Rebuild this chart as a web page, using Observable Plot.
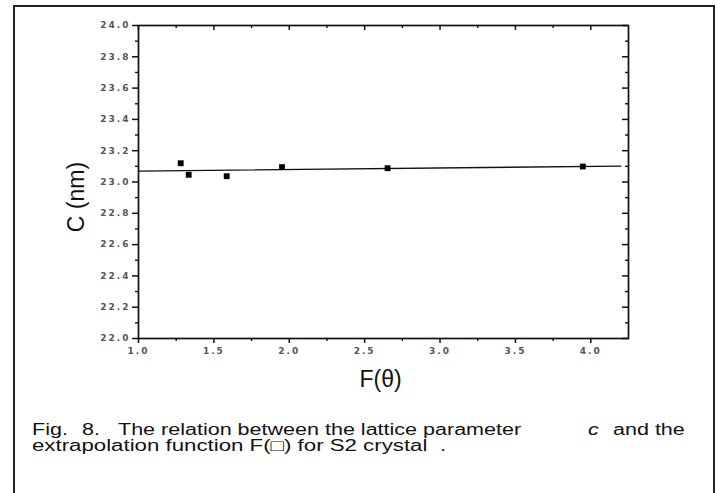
<!DOCTYPE html>
<html>
<head>
<meta charset="utf-8">
<script src="https://cdn.jsdelivr.net/npm/d3@7"></script>
<script src="https://cdn.jsdelivr.net/npm/@observablehq/plot@0.6"></script>
<style>
  html, body { margin: 0; padding: 0; background: #fff; width: 717px; height: 493px; overflow: hidden; }
  #wrap { position: relative; width: 717px; height: 493px; overflow: hidden; }
  #border { position: absolute; left: 13px; top: 5px; width: 698px; height: 600px; border: 2px solid #222; }
  #chart { position: absolute; left: 0; top: 0; }
  #caption { position: absolute; left: 0; top: 0; width: 717px; height: 493px; pointer-events: none; }
  #caption span { position: absolute; font: 16px "Liberation Sans", Arial, sans-serif; line-height: 16.5px;
                  color: #111; white-space: pre; transform-origin: 0 0; }
  g[aria-label="y-axis tick label"] text, g[aria-label="x-axis tick label"] text { letter-spacing: 2px; }
</style>
</head>
<body>
<div id="wrap">
  <div id="border"></div>
  <div id="chart"></div>
  <div id="caption"></div>
</div>
<script>
// ---- data ----
const fTheta = [1.28, 1.333, 1.585, 1.952, 2.652, 3.947];      // F(θ)
const cValues = [23.12, 23.046, 23.037, 23.095, 23.088, 23.099]; // C (nm)
const xDomain = [1.0, 4.25];
const yDomain = [22.0, 24.0];
const fitRange = [1.0, 4.2];                                      // extent of drawn fit line
const xMajor = [1.0, 1.5, 2.0, 2.5, 3.0, 3.5, 4.0];
const xMinor = [1.25, 1.75, 2.25, 2.75, 3.25, 3.75];
const yMajor = [22.0, 22.2, 22.4, 22.6, 22.8, 23.0, 23.2, 23.4, 23.6, 23.8, 24.0];
const yMinor = [22.1, 22.3, 22.5, 22.7, 22.9, 23.1, 23.3, 23.5, 23.7, 23.9];
const xTitle = "F(θ)";
const yTitle = "C (nm)";
const captionLine1 = ["Fig.", "8.", "The relation between the lattice parameter", "c", "and the"];
const captionLine2 = ["extrapolation function F(□) for S2 crystal", "."];

// ---- caption layout (positions only) ----
const cap1Left = [32, 82, 118, 588, 613];
const cap2Left = [32, 440];
const capTop = [421.5, 437.5];
const capScale = [1.345, 1.39];

// ---- linear fit ----
const pts = fTheta.map((x, i) => ({x, c: cValues[i]}));
const mx = d3.mean(fTheta), my = d3.mean(cValues);
const slope = d3.sum(pts, p => (p.x - mx) * (p.c - my)) / d3.sum(pts, p => (p.x - mx) ** 2);
const icpt = my - slope * mx;
const fit = fitRange.map(x => ({x, c: icpt + slope * x}));

// ---- layout ----
const W = 717, H = 405, mL = 138, mR = 89, mT = 25, mB = 67;
const plotW = W - mL - mR, plotH = H - mT - mB;
const ink = "#111";

const chart = Plot.plot({
  width: W, height: H,
  marginLeft: mL, marginRight: mR, marginTop: mT, marginBottom: mB,
  style: { fontFamily: "DejaVu Sans, sans-serif", background: "transparent", color: ink, overflow: "visible" },
  x: { domain: xDomain },
  y: { domain: yDomain },
  marks: [
    Plot.axisX(xMinor, { anchor: "bottom", tickSize: 3, tickFormat: () => "", label: null, strokeWidth: 1.4 }),
    Plot.axisX(xMajor, { anchor: "bottom", tickSize: 5, tickPadding: 4, tickFormat: d => d.toFixed(1),
                         label: null, fontSize: 9, fontWeight: "bold", fill: "#555", stroke: ink, strokeWidth: 1.5 }),
    Plot.axisY(yMinor, { anchor: "left", tickSize: 3, tickFormat: () => "", label: null, strokeWidth: 1.4 }),
    Plot.axisY(yMajor, { anchor: "left", tickSize: 6, tickPadding: 2, tickFormat: d => d.toFixed(1),
                         label: null, fontSize: 9, fontWeight: "bold", fill: "#555", stroke: ink, strokeWidth: 1.5 }),
    // inward ticks on top and right sides
    Plot.ruleX(xMajor, { insetBottom: plotH - 5, stroke: ink, strokeWidth: 1.5 }),
    Plot.ruleX(xMinor, { insetBottom: plotH - 3, stroke: ink, strokeWidth: 1.4 }),
    Plot.ruleY(yMajor, { insetLeft: plotW - 6, stroke: ink, strokeWidth: 1.5 }),
    Plot.ruleY(yMinor, { insetLeft: plotW - 3, stroke: ink, strokeWidth: 1.4 }),
    Plot.frame({ stroke: ink, strokeWidth: 1.7 }),
    Plot.line(fit, { x: "x", y: "c", stroke: ink, strokeWidth: 1.4 }),
    Plot.dot(pts, { x: "x", y: "c", symbol: "square", r: 3.3, fill: "#000", stroke: "none" }),
    Plot.text([xTitle], { frameAnchor: "bottom", textAnchor: "middle", dx: -3, dy: 48, fontSize: 23,
                          fontFamily: "Liberation Sans, Arial, sans-serif", fill: ink }),
    Plot.text([yTitle], { frameAnchor: "left", textAnchor: "middle", dx: -62, dy: 15, rotate: -90, fontSize: 23,
                          fontFamily: "Liberation Sans, Arial, sans-serif", fill: ink })
  ]
});
document.getElementById("chart").appendChild(chart);

// ---- caption ----
const cap = document.getElementById("caption");
function addSegs(texts, lefts, top, scale, italicIndex) {
  texts.forEach((t, i) => {
    const s = document.createElement("span");
    s.textContent = t;
    s.style.left = lefts[i] + "px";
    s.style.top = top + "px";
    s.style.transform = `scaleX(${scale})`;
    if (i === italicIndex) s.style.fontStyle = "italic";
    cap.appendChild(s);
  });
}
addSegs(captionLine1, cap1Left, capTop[0], capScale[0], 3);
addSegs(captionLine2, cap2Left, capTop[1], capScale[1], -1);
</script>
</body>
</html>
